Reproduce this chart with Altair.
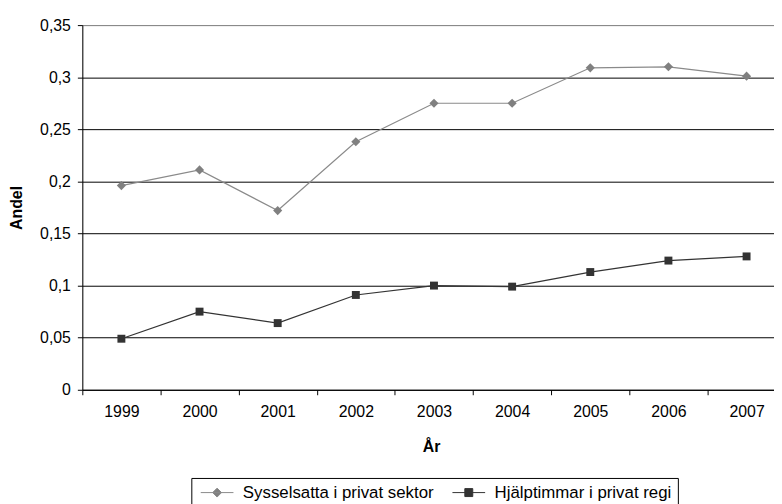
import altair as alt
import pandas as pd

# ---- data ----
years = [1999, 2000, 2001, 2002, 2003, 2004, 2005, 2006, 2007]
series_names = ["Sysselsatta i privat sektor", "Hjälptimmar i privat regi"]
sysselsatta = [0.196, 0.211, 0.172, 0.238, 0.275, 0.275, 0.309, 0.310, 0.301]
hjalptimmar = [0.049, 0.075, 0.064, 0.091, 0.100, 0.099, 0.113, 0.124, 0.128]
y_ticks = [0, 0.05, 0.1, 0.15, 0.2, 0.25, 0.3, 0.35]

colors = ["#808080", "#333333"]
line_colors = ["#8a8a8a", "#333333"]

rows = []
for name, vals in zip(series_names, [sysselsatta, hjalptimmar]):
    for yr, v in zip(years, vals):
        rows.append({"year": yr, "value": v, "series": name})
df = pd.DataFrame(rows)

boundaries = [y - 0.5 for y in years] + [years[-1] + 0.5]
x_values = sorted(years + boundaries)

FONT = "Liberation Sans"

x_axis = alt.Axis(
    values=x_values,
    labelExpr="datum.value % 1 == 0 ? toString(datum.value) : ''",
    tickOpacity=alt.condition("datum.value % 1 == 0", alt.value(0), alt.value(1)),
    tickSize=5, tickColor="#000000", domainColor="#000000", grid=False,
    labelFlush=False, labelOverlap=False, labelPadding=9, labelFontSize=16,
    labelFont=FONT, labelColor="#000000",
    title="År", titleFont=FONT, titleFontSize=16, titleFontWeight="bold",
    titleColor="#000000", titleX=352, titleY=49, titleBaseline="top",
)

y_axis = alt.Axis(
    values=y_ticks,
    labelExpr="replace(toString(datum.value), '.', ',')",
    tickSize=5, tickColor="#000000", domainColor="#000000", grid=True,
    gridColor=alt.condition("datum.value > 0.34", alt.value("#808080"), alt.value("#000000")),
    gridWidth=1, gridOpacity=1, labelPadding=7, labelFontSize=16,
    labelFont=FONT, labelColor="#000000",
    title="Andel", titleFont=FONT, titleFontSize=16, titleFontWeight="bold",
    titleColor="#000000", titleX=-58, titleY=184,
)

x_scale = alt.Scale(domain=[1998.5, 2007.351], nice=False, zero=False)
y_scale = alt.Scale(domain=[0, 0.35], nice=False, zero=True)

base = alt.Chart(df).encode(
    x=alt.X("year:Q", scale=x_scale, axis=x_axis),
    y=alt.Y("value:Q", scale=y_scale, axis=y_axis),
)

lines = base.mark_line(strokeWidth=1.2).encode(
    stroke=alt.Stroke("series:N", scale=alt.Scale(domain=series_names, range=line_colors), legend=None)
)

pts1 = base.mark_point(shape="diamond", filled=True, size=85, color=colors[0], opacity=1).transform_filter(
    alt.datum.series == series_names[0]
)
pts2 = base.mark_point(shape="square", filled=True, size=64, color=colors[1], opacity=1).transform_filter(
    alt.datum.series == series_names[1]
)

# legend symbols: a short line with the series marker in its middle
legend_paths = [
    "M-1,0H5.6M1.4,0L2.3,-0.9L3.2,0L2.3,0.9Z",
    "M-1,0H5.6M1.5,-0.8H3.1V0.8H1.5Z",
]

def make_legend():
    return alt.Legend(
        title=None, orient="none", legendX=110, legendY=457,
        direction="horizontal", padding=6, strokeColor="#000000", fillColor="#ffffff",
        symbolSize=100, symbolStrokeWidth=1, symbolOpacity=1,
        labelFont=FONT, labelFontSize=17, labelColor="#000000", labelLimit=400,
        labelOffset=29, columnPadding=15,
    )

legend_layer = base.mark_point(filled=True, size=1, stroke="#666666", strokeWidth=1).encode(
    color=alt.Color("series:N", scale=alt.Scale(domain=series_names, range=colors), legend=make_legend()),
    shape=alt.Shape("series:N", scale=alt.Scale(domain=series_names, range=legend_paths), legend=make_legend()),
)

chart = (
    alt.layer(legend_layer, lines, pts1, pts2)
    .properties(
        width=698,
        height=368,
        autosize=alt.AutoSizeParams(type="none"),
        padding={"left": 75, "top": 15, "right": 0, "bottom": 113},
    )
    .configure_view(strokeWidth=0)
    .configure(font=FONT)
)

chart.save("out.html", embed_options={"renderer": "svg", "actions": False})
